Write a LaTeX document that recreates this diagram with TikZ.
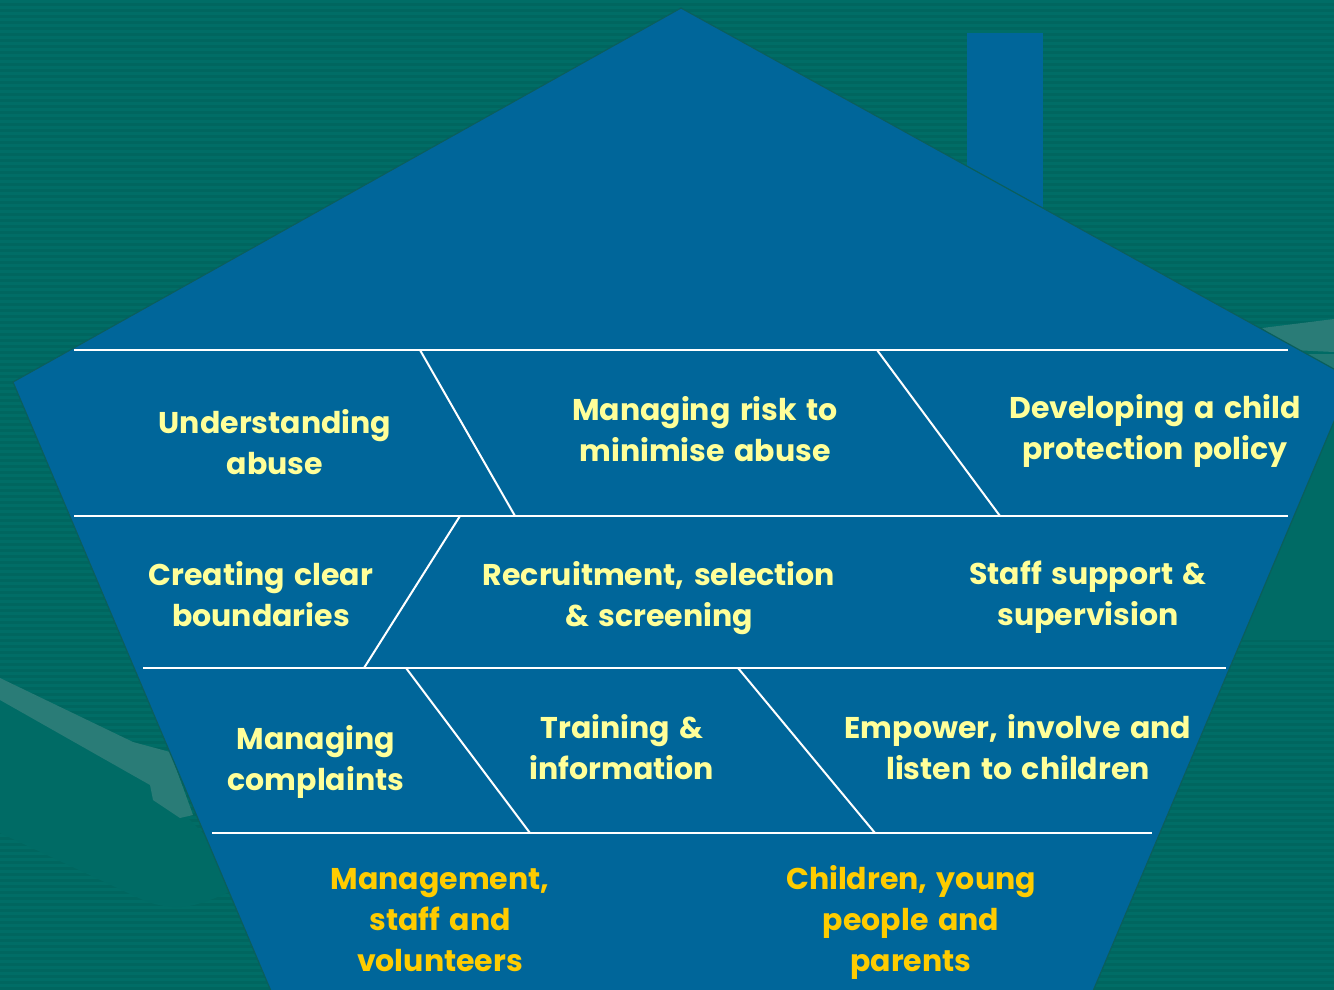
\documentclass[tikz,border=0pt]{standalone}
\usepackage{fontspec}
\setmainfont{Poppins}[WordSpace=1.5]
\definecolor{bgA}{HTML}{00665F}
\definecolor{bgB}{HTML}{006D66}
\definecolor{bgS}{HTML}{006B65}
\definecolor{bandc}{HTML}{2A7C77}
\definecolor{housec}{HTML}{00669A}
\definecolor{edgec}{HTML}{0A5F5C}
\definecolor{ltxt}{HTML}{FFFF99}
\definecolor{gtxt}{HTML}{FFCC00}
\tikzset{
  divider/.style={draw=white, line width=2pt},
  lbl/.style={text=ltxt, font=\bfseries\fontsize{30}{41}\selectfont, align=center, inner sep=0pt},
  glbl/.style={text=gtxt, font=\bfseries\fontsize{30}{41}\selectfont, align=center, inner sep=0pt}
}
\begin{document}
\begin{tikzpicture}[x=1pt,y=-1pt]
\useasboundingbox (0,0) rectangle (1334,990);
\clip (0,0) rectangle (1334,990);
% background with stripes
\fill[bgA] (0,0) rectangle (1334,990);
\foreach \i in {0,...,165} {\fill[bgB] (0,{\i*6}) rectangle (1334,{\i*6+3});}
% left unstriped swoosh region
\fill[bgS] (0,690) -- (150,780) -- (200,830) -- (250,880) -- (227,893)
  .. controls (200,905) and (185,908) .. (173,907)
  .. controls (160,906) and (150,903) .. (143,900) -- (0,833) -- cycle;
% left light band
\fill[bandc] (0,678) -- (133,742) -- (170,752) -- (193,815) -- (180,818)
  -- (153,800) -- (150,785) -- (0,700) -- cycle;
% right unstriped region and light shapes
\fill[bgS] (1200,350) rectangle (1334,640);
\fill[bandc] (1262,328) -- (1334,319) -- (1334,352) -- (1292,350) -- cycle;
\fill[bandc!80!bgS] (1300,354) -- (1334,354) -- (1334,372) -- cycle;
% chimney
\fill[housec] (967,33) rectangle (1043,230);
% house
\filldraw[fill=housec, draw=edgec, line width=1.2pt]
  (681,8) -- (1352,379) -- (1085,1010) -- (279,1010) -- (13,382) -- cycle;
% horizontal dividers
\draw[divider] (74,350) -- (1288,350);
\draw[divider] (74,516) -- (1288,516);
\draw[divider] (143,668) -- (1226,668);
\draw[divider] (212,833) -- (1152,833);
% slanted dividers
\draw[divider] (420,350) -- (515,516);
\draw[divider] (877,350) -- (1000,516);
\draw[divider] (460,516) -- (364,668);
\draw[divider] (406,668) -- (530,833);
\draw[divider] (738,668) -- (875,833);
% labels
\node[lbl] (t1) at (275,442) {Understanding\\abuse};
\node[lbl] (t2) at (705,429) {Managing risk to\\minimise abuse};
\node[lbl] (t3) at (1155,431) {Developing a child\\protection policy};
\node[lbl] (t4) at (261,594) {Creating clear\\boundaries};
\node[lbl] (t5) at (659,598) {Recruitment, selection\\\& screening};
\node[lbl] (t6) at (1088,597) {Staff support \&\\supervision};
\node[lbl] (t7) at (316,762) {Managing\\complaints};
\node[lbl] (t8) at (622,747) {Training \&\\information};
\node[lbl] (t9) at (1018,747) {Empower, involve and\\listen to children};
\node[glbl] (b1) at (440,920) {Management,\\staff and\\volunteers};
\node[glbl] (b2) at (911,922) {Children, young\\people and\\parents};
\end{tikzpicture}
\end{document}
